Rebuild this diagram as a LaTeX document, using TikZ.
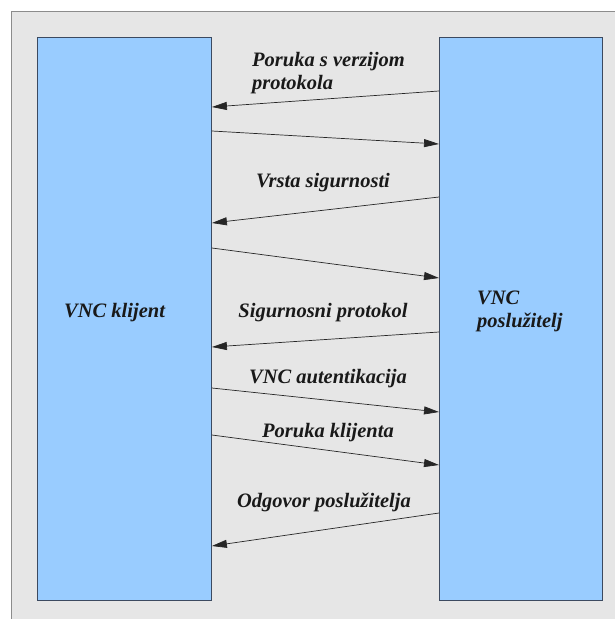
\documentclass[tikz,border=0pt]{standalone}
\usepackage{fontspec}
\setmainfont{Liberation Serif}
\usetikzlibrary{arrows.meta}
\definecolor{panelgray}{HTML}{E6E6E6}
\definecolor{framegray}{HTML}{8C8C8C}
\definecolor{boxblue}{HTML}{99CCFF}
\definecolor{boxedge}{HTML}{3C4A60}
\tikzset{
  hostbox/.style={draw=boxedge,fill=boxblue,line width=0.9pt,inner sep=0pt,
    anchor=north west,minimum width=#1,minimum height=563pt},
  msg/.style={draw=black!85,line width=0.7pt,-{Triangle[length=15pt,width=8pt]}},
  lbl/.style={font=\fontsize{20.5}{23}\selectfont\bfseries\itshape,text=black!90,
    inner sep=0pt,align=left}
}
\begin{document}
\begin{tikzpicture}[x=1pt,y=-1pt]
\useasboundingbox (0,0) rectangle (615,619);
\fill[panelgray] (11,11) rectangle (615,619);
\draw[framegray,line width=0.9pt] (11,619) -- (11,11) -- (615,11);

% the two hosts
\node[hostbox=174pt] (klijent) at (37,37) {};
\node[hostbox=163pt] (server) at (439,37) {};
\node[lbl,anchor=base west] (tklijent) at (64,317) {VNC klijent};
\node[lbl,anchor=base west] (tserver) at (477,327) {VNC\\poslužitelj};

% messages
\draw[msg] (server.west |- 0,91) -- (klijent.east |- 0,107);
\node[lbl,anchor=base west] (m1) at (252,89) {Poruka s verzijom\\protokola};
\draw[msg] (klijent.east |- 0,131) -- (server.west |- 0,144);

\draw[msg] (server.west |- 0,197) -- (klijent.east |- 0,223);
\node[lbl,anchor=base] (m2) at (323,187) {Vrsta sigurnosti};
\draw[msg] (klijent.east |- 0,248) -- (server.west |- 0,278);

\draw[msg] (server.west |- 0,332) -- (klijent.east |- 0,347);
\node[lbl,anchor=base] (m3) at (323,317) {Sigurnosni protokol};

\draw[msg] (klijent.east |- 0,388) -- (server.west |- 0,412);
\node[lbl,anchor=base] (m4) at (328,383) {VNC autentikacija};

\draw[msg] (klijent.east |- 0,435) -- (server.west |- 0,465);
\node[lbl,anchor=base] (m5) at (328,437) {Poruka klijenta};

\draw[msg] (server.west |- 0,513) -- (klijent.east |- 0,546);
\node[lbl,anchor=base] (m6) at (324,507) {Odgovor poslužitelja};
\end{tikzpicture}
\end{document}
